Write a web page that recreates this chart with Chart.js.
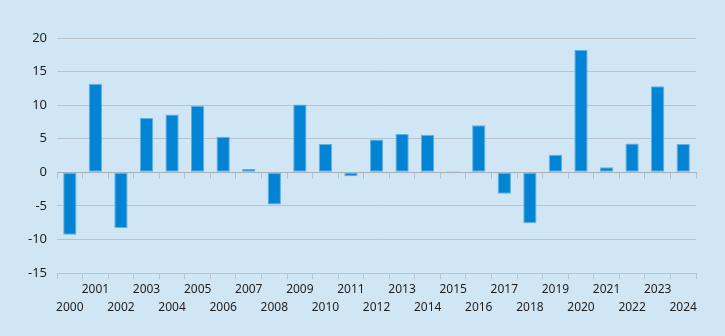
<!DOCTYPE html>
<html>
<head>
<meta charset="utf-8">
<script src="https://cdn.jsdelivr.net/npm/chart.js@4"></script>
<style>
    html, body { margin: 0; padding: 0; background: #d1e6f4; }
    #wrap { width: 725px; height: 336px; }
</style>
</head>
<body>
<div id="wrap"><canvas id="growthChart" width="725" height="336"></canvas></div>
<script>
// Datos del gráfico
const years = ['2000', '2001', '2002', '2003', '2004', '2005', '2006', '2007', '2008', '2009',
    '2010', '2011', '2012', '2013', '2014', '2015', '2016', '2017', '2018', '2019',
    '2020', '2021', '2022', '2023', '2024'];
const values = [-9.3, 13.2, -8.3, 8.1, 8.6, 9.9, 5.3, 0.5, -4.8, 10.1,
    4.2, -0.6, 4.9, 5.7, 5.6, 0.15, 7.0, -3.2, -7.6, 2.6,
    18.2, 0.75, 4.3, 12.8, 4.2];
const yTicks = [-15, -10, -5, 0, 5, 10, 15, 20];

// Etiquetas escalonadas: años impares arriba, pares abajo
const labels = years.map(y => (Number(y) % 2 === 1 ? [y, ''] : ['', y]));

const textColor = '#1e1e1e';
const gridColor = '#b9c3cc';

new Chart(document.getElementById('growthChart').getContext('2d'), {
    type: 'bar',
    data: {
        labels: labels,
        datasets: [{
            data: values,
            backgroundColor: '#0383d3',
            borderColor: '#5fb2e6',
            borderWidth: 1,
            borderSkipped: false,
            categoryPercentage: 1,
            barPercentage: 0.52
        }]
    },
    options: {
        responsive: false,
        animation: false,
        layout: { padding: { left: 18, right: 29, top: 38, bottom: 17 } },
        plugins: { legend: { display: false }, tooltip: { enabled: false } },
        scales: {
            x: {
                offset: true,
                grid: { offset: true, drawOnChartArea: false, drawTicks: true, tickLength: 6, color: gridColor },
                border: { display: true, color: gridColor },
                ticks: {
                    color: textColor,
                    font: { family: '"Noto Sans", sans-serif', size: 12, lineHeight: 1.5 },
                    maxRotation: 0, autoSkip: false, padding: 2
                }
            },
            xZero: {
                type: 'category',
                position: { y: 0 },
                offset: true,
                grid: { offset: true, drawOnChartArea: false, drawTicks: true, tickLength: 6, color: gridColor },
                border: { display: true, color: '#a9b1b8' },
                ticks: { display: false }
            },
            y: {
                min: -15,
                max: 20,
                afterBuildTicks: scale => { scale.ticks = yTicks.map(v => ({ value: v })); },
                grid: { color: gridColor, drawTicks: false },
                border: { display: false },
                ticks: { color: textColor, font: { family: '"Noto Sans", sans-serif', size: 13 }, padding: 10 }
            }
        }
    }
});
</script>
</body>
</html>
